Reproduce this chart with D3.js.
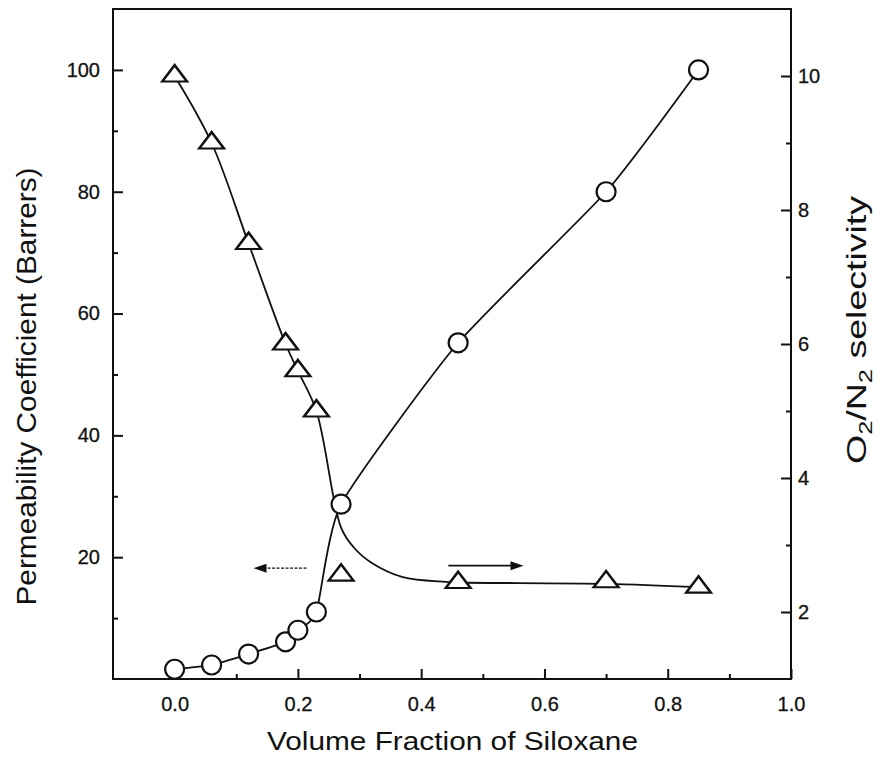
<!DOCTYPE html>
<html>
<head>
<meta charset="utf-8">
<script src="https://cdn.jsdelivr.net/npm/d3@7"></script>
<style>
  html, body { margin: 0; padding: 0; background: #fff; }
  svg { display: block; }
  text { font-family: "Liberation Sans", Arial, sans-serif; fill: #111; }
</style>
</head>
<body>
<svg id="chart" width="878" height="759"></svg>
<script>
// ---- data ----
const volumeFraction = [0.0, 0.06, 0.12, 0.18, 0.20, 0.23, 0.27, 0.46, 0.70, 0.85];
const permeability   = [1.6, 2.3, 4.1, 6.1, 8.0, 11.0, 28.7, 55.2, 80.0, 100.0];
const selectivity    = [10.0, 9.0, 7.5, 6.0, 5.6, 5.0, 2.55, 2.44, 2.45, 2.37];
// fitted selectivity curve (it misses the 0.27 point)
const selCurveX = [0.0, 0.06, 0.12, 0.18, 0.20, 0.23, 0.27, 0.29, 0.32, 0.37, 0.44, 0.46, 0.70, 0.85];
const selCurveY = [10.0, 9.0, 7.5, 6.0, 5.6, 5.0, 3.26, 2.97, 2.73, 2.52, 2.45, 2.44, 2.42, 2.37];

const xTicks = [0.0, 0.2, 0.4, 0.6, 0.8, 1.0];
const xMinorTicks = [0.1, 0.3, 0.5, 0.7, 0.9];
const leftTicks = [20, 40, 60, 80, 100];
const leftMinorTicks = [10, 30, 50, 70, 90];
const rightTicks = [2, 4, 6, 8, 10];
const rightMinorTicks = [3, 5, 7, 9];

const xTitle = "Volume Fraction of Siloxane";
const leftTitle = "Permeability Coefficient (Barrers)";

// arrows (data coordinates: x fraction, permeability level)
const leftArrow  = { from: 0.214, to: 0.128, level: 18.2 };
const rightArrow = { from: 0.444, to: 0.566, level: 18.6 };

// ---- layout ----
const L = 113, R = 791, T = 9, B = 679;
const svg = d3.select("#chart");

const x  = d3.scaleLinear().domain([-0.1, 1.0]).range([L, R]);
const yL = d3.scaleLinear().domain([0, 110]).range([B, T]);
const yR = d3.scaleLinear().domain([1, 11]).range([B, T]);

const ink = "#111";

// frame
svg.append("rect").attr("x", L).attr("y", T).attr("width", R - L).attr("height", B - T)
  .attr("fill", "none").attr("stroke", ink).attr("stroke-width", 2);

// axes with inward ticks
function styleAxis(g) {
  g.select(".domain").remove();
  g.selectAll(".tick line").attr("stroke", ink).attr("stroke-width", 2);
  g.selectAll(".tick text").attr("font-size", 20).attr("fill", ink)
    .attr("stroke", ink).attr("stroke-width", 0.3)
    .attr("font-family", "Liberation Sans, Arial, sans-serif");
}

const gx = svg.append("g").attr("transform", `translate(0,${B})`)
  .call(d3.axisBottom(x).tickValues(xTicks).tickFormat(d3.format(".1f")).tickSizeInner(-10).tickSizeOuter(0).tickPadding(18));
styleAxis(gx);
const gxm = svg.append("g").attr("transform", `translate(0,${B})`)
  .call(d3.axisBottom(x).tickValues(xMinorTicks).tickFormat("").tickSizeInner(-5).tickSizeOuter(0));
styleAxis(gxm);

const gl = svg.append("g").attr("transform", `translate(${L},0)`)
  .call(d3.axisLeft(yL).tickValues(leftTicks).tickFormat(d3.format("d")).tickSizeInner(-10).tickSizeOuter(0).tickPadding(13));
styleAxis(gl);
const glm = svg.append("g").attr("transform", `translate(${L},0)`)
  .call(d3.axisLeft(yL).tickValues(leftMinorTicks).tickFormat("").tickSizeInner(-5).tickSizeOuter(0));
styleAxis(glm);

const gr = svg.append("g").attr("transform", `translate(${R},0)`)
  .call(d3.axisRight(yR).tickValues(rightTicks).tickFormat(d3.format("d")).tickSizeInner(-10).tickSizeOuter(0).tickPadding(7));
styleAxis(gr);
const grm = svg.append("g").attr("transform", `translate(${R},0)`)
  .call(d3.axisRight(yR).tickValues(rightMinorTicks).tickFormat("").tickSizeInner(-5).tickSizeOuter(0));
styleAxis(grm);

// titles
svg.append("text").attr("x", (267 + 638) / 2).attr("y", 750)
  .attr("text-anchor", "middle").attr("font-size", 25)
  .attr("textLength", 371).attr("lengthAdjust", "spacingAndGlyphs")
  .text(xTitle);

svg.append("text").attr("transform", `translate(36,${(167 + 606) / 2}) rotate(-90)`)
  .attr("text-anchor", "middle").attr("font-size", 28)
  .attr("textLength", 438).attr("lengthAdjust", "spacingAndGlyphs")
  .text(leftTitle);

const rt = svg.append("text").attr("transform", `translate(866,${(195 + 465) / 2}) rotate(-90)`)
  .attr("text-anchor", "middle").attr("font-size", 28)
  .attr("textLength", 268).attr("lengthAdjust", "spacingAndGlyphs");
rt.append("tspan").text("O");
rt.append("tspan").attr("font-size", 19).attr("dy", 6).text("2");
rt.append("tspan").attr("dy", -6).text("/N");
rt.append("tspan").attr("font-size", 19).attr("dy", 6).text("2");
rt.append("tspan").attr("dy", -6).text(" selectivity");

// lines
const plotG = svg.append("g");
const permPts = volumeFraction.map((v, i) => [x(v), yL(permeability[i])]);
const selPts  = selCurveX.map((v, i) => [x(v), yR(selCurveY[i])]);
const selLine  = d3.line().curve(d3.curveCatmullRom.alpha(0.5));
const permLine = d3.line().curve(d3.curveCardinal.tension(0.45));

plotG.append("path").attr("d", selLine(selPts)).attr("fill", "none")
  .attr("stroke", ink).attr("stroke-width", 1.8);
plotG.append("path").attr("d", permLine(permPts)).attr("fill", "none")
  .attr("stroke", ink).attr("stroke-width", 1.8);

// markers
const tri = d3.symbol().type(d3.symbolTriangle).size(170);
plotG.selectAll("path.tri").data(volumeFraction).enter().append("path")
  .attr("class", "tri")
  .attr("d", tri)
  .attr("transform", (d, i) => `translate(${x(d)},${yR(selectivity[i])}) scale(1.25,0.95)`)
  .attr("fill", "#fff").attr("stroke", ink).attr("stroke-width", 2.2);

plotG.selectAll("circle.pt").data(volumeFraction).enter().append("circle")
  .attr("class", "pt")
  .attr("cx", d => x(d)).attr("cy", (d, i) => yL(permeability[i]))
  .attr("r", 9.5)
  .attr("fill", "#fff").attr("stroke", ink).attr("stroke-width", 2.2);

// arrows
function arrow(a, dashed) {
  const y = yL(a.level);
  const x0 = x(a.from), x1 = x(a.to);
  const dir = Math.sign(x1 - x0);
  const headLen = 13, headW = 4.5;
  svg.append("line").attr("x1", x0).attr("y1", y).attr("x2", x1 - dir * headLen * 0.6).attr("y2", y)
    .attr("stroke", ink).attr("stroke-width", dashed ? 1.3 : 1.8)
    .attr("stroke-dasharray", dashed ? "3,1.5" : null);
  svg.append("path")
    .attr("d", `M${x1},${y} L${x1 - dir * headLen},${y - headW} L${x1 - dir * headLen},${y + headW} Z`)
    .attr("fill", ink);
}
arrow(leftArrow, true);
arrow(rightArrow, false);
</script>
</body>
</html>
